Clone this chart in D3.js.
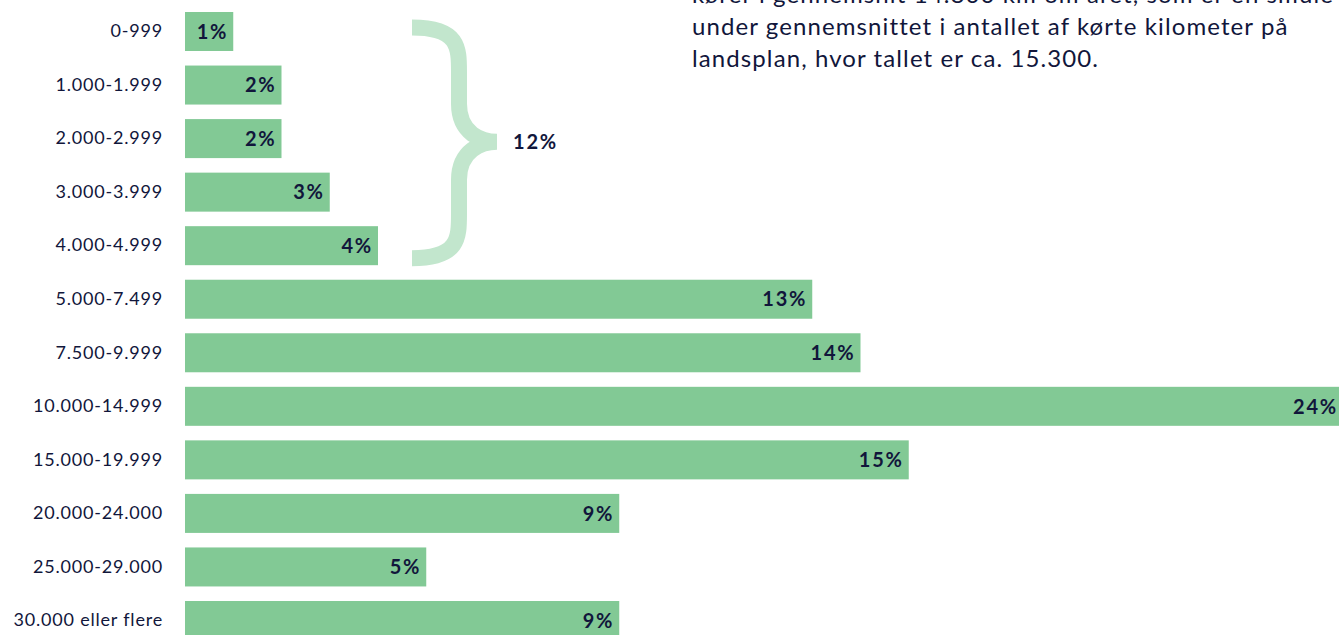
<!DOCTYPE html>
<html>
<head>
<meta charset="utf-8">
<script src="https://cdn.jsdelivr.net/npm/d3@7"></script>
<style>
  html, body { margin: 0; padding: 0; background: #ffffff; overflow: hidden; }
  svg { display: block; }
  text { font-family: Lato, "Open Sans", sans-serif; fill: #11163b; }
</style>
</head>
<body>
<svg id="chart" width="1339" height="635"></svg>
<script>
const categories = ["0-999", "1.000-1.999", "2.000-2.999", "3.000-3.999", "4.000-4.999",
  "5.000-7.499", "7.500-9.999", "10.000-14.999", "15.000-19.999", "20.000-24.000",
  "25.000-29.000", "30.000 eller flere"];
const values = [1, 2, 2, 3, 4, 13, 14, 24, 15, 9, 5, 9];
const bracketLabel = "12%";
const noteLines = [
  "kører i gennemsnit 14.800 km om året, som er en smule",
  "under gennemsnittet i antallet af kørte kilometer på",
  "landsplan, hvor tallet er ca. 15.300."
];

(function () {
const svg = d3.select("#chart");

const x = d3.scaleLinear().domain([0, 24]).range([185, 1343]);
const y = d3.scaleBand().domain(categories).range([12, 640]).paddingInner(0.2716).paddingOuter(0);

// bars
svg.append("g").selectAll("rect").data(values).join("rect")
  .attr("x", x(0))
  .attr("y", (d, i) => y(categories[i]))
  .attr("width", d => x(d) - x(0))
  .attr("height", y.bandwidth())
  .attr("fill", "#82c995");

// value labels
svg.append("g").selectAll("text").data(values).join("text")
  .attr("x", d => x(d) - 5)
  .attr("y", (d, i) => y(categories[i]) + y.bandwidth() / 2)
  .attr("dy", "0.36em")
  .attr("text-anchor", "end")
  .style("font-size", "20px")
  .style("font-weight", "bold")
  .style("letter-spacing", "1.8px")
  .text(d => d + "%");

// category axis labels
const axis = d3.axisLeft(y).tickSize(0).tickPadding(0);
const gAxis = svg.append("g").attr("transform", "translate(163,0)").call(axis);
gAxis.select(".domain").remove();
gAxis.selectAll("text")
  .style("font-size", "18px")
  .style("letter-spacing", "0.8px")
  .style("font-family", "Lato, 'Open Sans', sans-serif")
  .attr("fill", "#11163b");

// brace
const bTop = y(categories[0]) + 15.5;
const bBot = y(categories[4]) + y.bandwidth() - 7;
const mid = (bTop + bBot) / 2 - 1;
const xl = 412, xs = 459, xt = 497;
const p = d3.path();
p.moveTo(xl, bTop);
p.bezierCurveTo(xs, bTop, xs, bTop + 20, xs, bTop + 45);
p.lineTo(xs, mid - 38);
p.bezierCurveTo(xs, mid - 8, xt - 15, mid, xt, mid);
p.bezierCurveTo(xt - 15, mid, xs, mid + 8, xs, mid + 38);
p.lineTo(xs, bBot - 45);
p.bezierCurveTo(xs, bBot - 20, xs, bBot, xl, bBot);
svg.append("path")
  .attr("d", p.toString())
  .attr("fill", "none")
  .attr("stroke", "#c2e6cd")
  .attr("stroke-width", 16);

svg.append("text")
  .attr("x", 513)
  .attr("y", mid)
  .attr("dy", "0.36em")
  .style("font-size", "20px")
  .style("font-weight", "bold")
  .style("letter-spacing", "1.8px")
  .text(bracketLabel);

// note text
svg.append("g").selectAll("text").data(noteLines).join("text")
  .attr("x", 692)
  .attr("y", (d, i) => 3 + i * 32)
  .style("font-size", "24px")
  .style("letter-spacing", "1.1px")
  .text(d => d);
})();
</script>
</body>
</html>
